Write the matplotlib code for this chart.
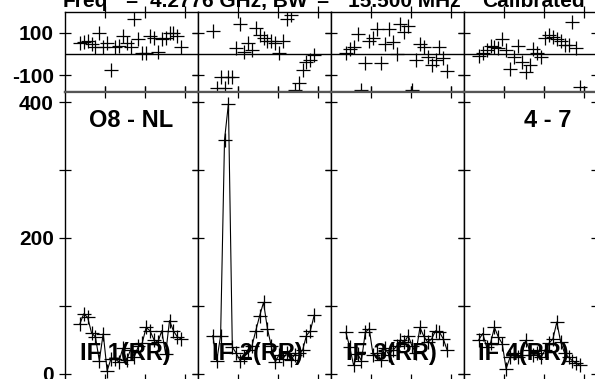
import numpy as np
import matplotlib
matplotlib.use("Agg")
import matplotlib.pyplot as plt

# channel numbers (same for every IF)
chan = np.arange(1, 28)

if_labels = ["IF 1(RR)", "IF 2(RR)", "IF 3(RR)", "IF 4(RR)"]

phase_if1 = [52, 56, 60, 47, 35, 97, 31, 52, -77, 35, 39, 84, 52, 31, 165,
             71, 6, 3, 84, 76, 11, 71, 76, 100, 97, 84, 35]
phase_if2 = [108, -161, -110, -161, -110, -110, 27, 140, 11, 52, 19, 124, 87, 76,
             60, 60, 52, 6, 60, 165, 184, -171, -134, -77, -37, -26, -5]
phase_if3 = [3, 23, 35, 92, -171, -42, 60, 76, 116, -42, 47, 116, 55, -2, 140,
             103, 132, -171, -26, 47, 31, -13, -53, -29, 31, -18, -82]
phase_if4 = [-10, 6, 19, 39, 35, 30, 71, 19, -69, -13, 39, -37, -85, -53, 23,
             6, -16, 76, 87, 81, 71, 60, 44, 40, 152, 27, -155]

amp_if1 = [73, 88, 83, 60, 54, 19, 59, 4, 22, 22, 17, 37, 20, 35, 25, 40, 45,
           68, 63, 50, 46, 63, 29, 78, 63, 54, 51]
amp_if2 = [56, 19, 56, 345, 398, 39, 30, 19, 25, 35, 40, 63, 85, 105, 66, 40,
           17, 28, 22, 30, 20, 28, 30, 34, 56, 63, 86]
amp_if3 = [61, 39, 12, 29, 19, 61, 66, 27, 30, 20, 38, 28, 34, 40, 50, 46, 56,
           40, 31, 68, 55, 46, 51, 63, 61, 51, 34]
amp_if4 = [50, 59, 39, 45, 68, 54, 44, 7, 24, 30, 24, 27, 49, 35, 27, 30, 24,
           35, 45, 51, 76, 46, 30, 24, 19, 15, 12]

phases = [phase_if1, phase_if2, phase_if3, phase_if4]
amps = [amp_if1, amp_if2, amp_if3, amp_if4]

# title pieces (text, left edge in px)
title_parts = [("Freq", 63), ("=", 125), ("4.2776 GHz, BW", 150), ("=", 316),
               ("15.500 MHz", 348), ("Calibrated", 482)]
baseline_label = "O8 - NL"
source_label = "4 - 7"

plt.rcParams['font.family'] = ['Liberation Sans', 'DejaVu Sans']
plt.rcParams['font.weight'] = 'bold'

W, H = 595, 379
fig = plt.figure(figsize=(W / 100, H / 100), dpi=100)

left_px = [65, 198, 331, 464]
pw = 133
ph_top, ph_bot = 11.7, 92.3
am_top, am_bot = 92.3, 380.5

def frac(x0, y0, x1, y1):
    return [x0 / W, 1 - y1 / H, (x1 - x0) / W, (y1 - y0) / H]

xt = [7.5, 17.75, 28]
for i in range(4):
    x0 = left_px[i]
    axp = fig.add_axes(frac(x0, ph_top, x0 + pw, ph_bot))
    axa = fig.add_axes(frac(x0, am_top, x0 + pw, am_bot))

    axp.plot(chan, phases[i], ls='none', marker='+', ms=10, mew=0.9, color='black')
    axp.axhline(0, color='black', lw=1)
    axp.set_ylim(-180, 198.6)
    axp.set_yticks([-100, 100])

    axa.plot(chan, amps[i], color='black', lw=0.8, marker='+', ms=10, mew=0.9)
    axa.set_ylim(-10.3, 415)
    axa.set_yticks([0, 100, 200, 300, 400])

    for ax in (axp, axa):
        ax.set_xlim(-2.8, 31.3)
        ax.set_xticks(xt)
        ax.set_xticklabels([])
        ax.tick_params(direction='inout', length=9, width=0.9,
                       top=True, right=True, labelsize=15)
        for s in ax.spines.values():
            s.set_linewidth(1)
        if i > 0:
            ax.set_yticklabels([])
    axp.spines['bottom'].set_color('#555555')
    axp.spines['bottom'].set_linewidth(1.6)
    axa.spines['top'].set_color('#555555')
    axa.spines['top'].set_linewidth(1.6)

    if i == 0:
        axp.set_yticklabels(["-100", "100"], fontweight='bold')
        axa.set_yticklabels(["0", "", "200", "", "400"], fontweight='bold')
        axa.text(0.5, 1 - (127 - am_top) / (am_bot - am_top), baseline_label,
                 transform=axa.transAxes, ha='center', va='baseline',
                 fontsize=17, fontweight='bold')
    if i == 3:
        axa.text((548 - x0) / pw, 1 - (127 - am_top) / (am_bot - am_top), source_label,
                 transform=axa.transAxes, ha='center', va='baseline',
                 fontsize=17, fontweight='bold')
    axa.text(14.5 / pw, 1 - (360 - am_top) / (am_bot - am_top), if_labels[i],
             transform=axa.transAxes, ha='left', va='baseline',
             fontsize=17, fontweight='bold')

for txt, xpx in title_parts:
    fig.text(xpx / W, 1 - 7 / H, txt, ha='left', va='baseline',
             fontsize=15, fontweight='bold')

fig.savefig("out.png", dpi=100)
